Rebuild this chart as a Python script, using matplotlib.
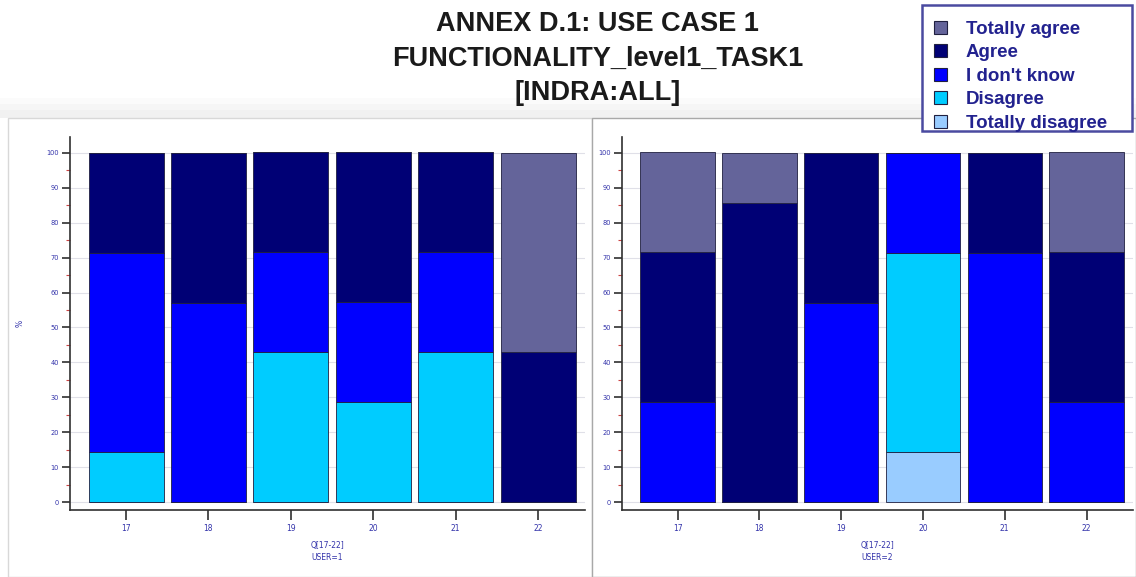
import matplotlib
matplotlib.use("Agg")
import matplotlib.pyplot as plt
import numpy as np
from matplotlib.patches import Rectangle, Patch
from matplotlib.ticker import MultipleLocator

questions = [17, 18, 19, 20, 21, 22]
categories = ["Totally disagree", "Disagree", "I don't know", "Agree", "Totally agree"]
colors = {"Totally disagree": "#99ccff", "Disagree": "#00ccff", "I don't know": "#0000ff",
          "Agree": "#000075", "Totally agree": "#64649a"}

# USER=1 (percent)
u1 = {
    "Totally disagree": [0, 0, 0, 0, 0, 0],
    "Disagree":         [14.3, 0, 42.9, 28.6, 42.9, 0],
    "I don't know":     [57.1, 57.1, 28.6, 28.6, 28.6, 0],
    "Agree":            [28.6, 42.9, 28.6, 42.9, 28.6, 42.9],
    "Totally agree":    [0, 0, 0, 0, 0, 57.1],
}
# USER=2 (percent)
u2 = {
    "Totally disagree": [0, 0, 0, 14.3, 0, 0],
    "Disagree":         [0, 0, 0, 57.1, 0, 0],
    "I don't know":     [28.6, 0, 57.1, 28.6, 71.4, 28.6],
    "Agree":            [42.9, 85.7, 42.9, 0, 28.6, 42.9],
    "Totally agree":    [28.6, 14.3, 0, 0, 0, 28.6],
}
users = [("Q[17-22]\nUSER=1", u1), ("Q[17-22]\nUSER=2", u2)]

fig = plt.figure(figsize=(11.36, 5.77), dpi=100)
fig.patch.set_facecolor("white")

# soft shading above the panels
for i, c in enumerate(["#fbfbfb", "#f6f6f6", "#f1f1f1"]):
    fig.add_artist(Rectangle((0.0, 0.795), 1, 0.035 - i * 0.01, transform=fig.transFigure,
                             facecolor=c, edgecolor="none", zorder=-5))
# panel frames
fig.add_artist(Rectangle((0.007, 0.0), 0.514, 0.795, transform=fig.transFigure,
                         facecolor="white", edgecolor="#d8d8d8", lw=1, zorder=-4))
fig.add_artist(Rectangle((0.521, 0.0), 0.479, 0.795, transform=fig.transFigure,
                         facecolor="white", edgecolor="#a8a8a8", lw=1, zorder=-4))

positions = [[0.0616, 0.116, 0.4534, 0.647], [0.5475, 0.116, 0.450, 0.647]]
tick_blue = "#3333aa"

for (xlabel, data), pos in zip(users, positions):
    ax = fig.add_axes(pos)
    ax.set_facecolor("white")
    x = np.array(questions)
    bottom = np.zeros(len(questions))
    for cat in categories:
        vals = np.array(data[cat])
        ax.bar(x, vals, width=0.91, bottom=bottom, color=colors[cat],
               edgecolor="#202040", linewidth=0.6, zorder=3)
        bottom += vals
    ax.set_xlim(16.32, 22.57)
    ax.set_ylim(-2.3, 104.6)
    ax.set_xticks(questions)
    ax.set_xticklabels([str(q) for q in questions], fontsize=5.5, color=tick_blue)
    ax.yaxis.set_minor_locator(MultipleLocator(5))
    ax.set_yticks(range(0, 101, 10))
    ax.set_yticklabels([str(v) for v in range(0, 101, 10)], fontsize=4.8, color=tick_blue)
    ax.tick_params(axis="y", which="major", length=6, width=1.2, color="#303030", pad=2)
    ax.tick_params(axis="y", which="minor", length=3, width=0.8, color="#cc4444")
    ax.tick_params(axis="x", which="major", length=7, width=1.2, color="#303030", pad=3)
    ax.grid(axis="y", color="#e0e0e8", lw=0.8, zorder=0)
    for s in ["top", "right"]:
        ax.spines[s].set_visible(False)
    for s in ["left", "bottom"]:
        ax.spines[s].set_color("#303030")
        ax.spines[s].set_linewidth(1.2)
    ax.set_xlabel(xlabel, fontsize=5.5, color=tick_blue, labelpad=6, linespacing=1.45)

fig.text(0.018, 0.44, "%", fontsize=5.5, color=tick_blue, rotation=90, va="center", ha="center")

fig.text(0.526, 0.898, "ANNEX D.1: USE CASE 1\nFUNCTIONALITY_level1_TASK1\n[INDRA:ALL]",
         ha="center", va="center", fontsize=19.5, fontweight="bold", color="#1a1a1a",
         family="Liberation Sans", linespacing=1.42)

# legend frame drawn explicitly
fig.add_artist(Rectangle((922 / 1136, 1 - 131 / 577), 210 / 1136, 126 / 577,
                         transform=fig.transFigure, facecolor="white",
                         edgecolor="#4a4aa0", lw=1.8, zorder=4))
handles = [Patch(facecolor=colors[c], edgecolor="#202040", lw=0.8) for c in categories[::-1]]
leg = fig.legend(handles, categories[::-1], loc="upper left",
                 bbox_to_anchor=(934 / 1136, 1 - 20.5 / 577),
                 frameon=False, borderpad=0.0, borderaxespad=0.0,
                 handlelength=0.7, handleheight=0.7, handletextpad=1.0, labelspacing=0.34,
                 prop={"family": "Liberation Sans", "weight": "bold", "size": 13.5})
leg.set_zorder(5)
for t in leg.get_texts():
    t.set_color("#22228f")

fig.savefig("out.png", dpi=100, facecolor=fig.get_facecolor())
